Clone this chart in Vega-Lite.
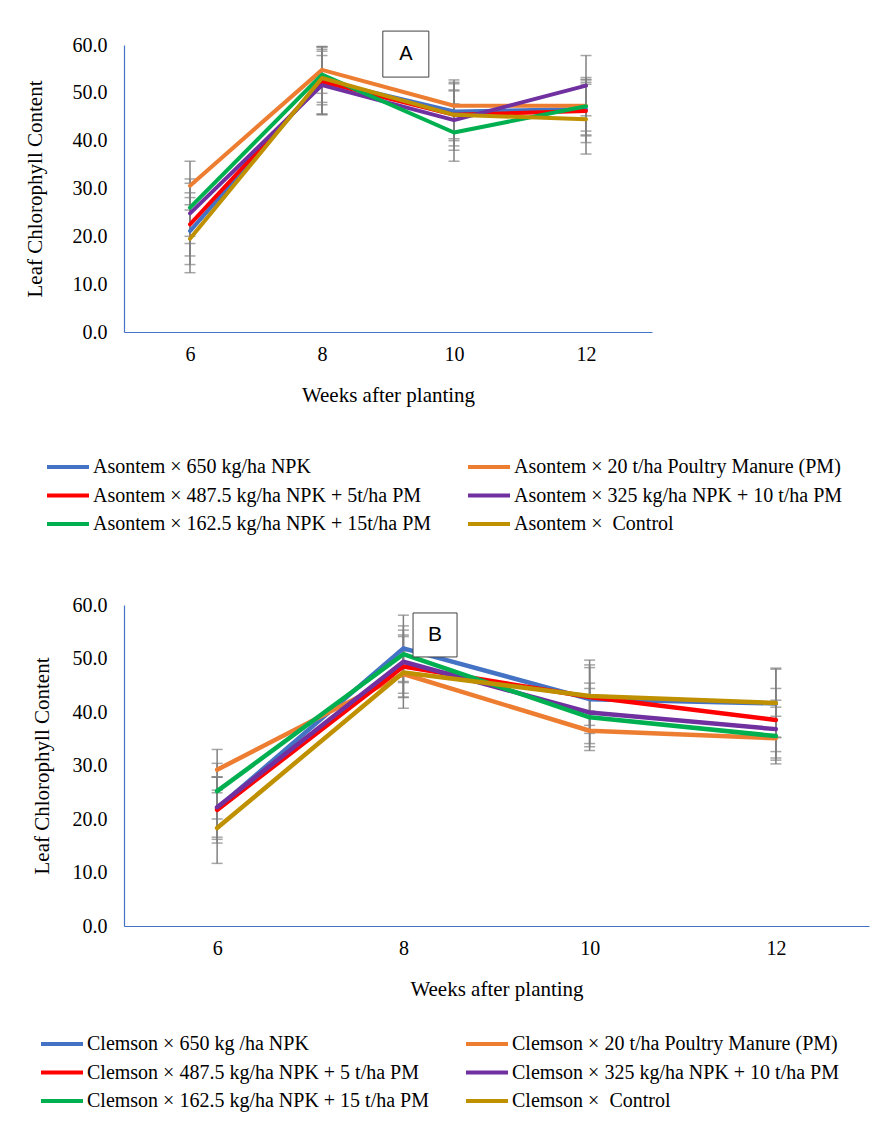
{
  "$schema": "https://vega.github.io/schema/vega-lite/v6.json",
  "background": "white",
  "padding": {"left": 24, "top": 29, "right": 5, "bottom": 5},
  "config": {
    "font": "Liberation Serif",
    "view": {"stroke": null},
    "axis": {
      "labelFont": "Liberation Serif", "labelFontSize": 20, "labelColor": "black",
      "titleFont": "Liberation Serif", "titleFontSize": 21, "titleFontWeight": "normal", "titleColor": "black",
      "ticks": false, "grid": false, "domainColor": "#4472C4", "domainWidth": 1.2
    },
    "legend": {"labelFont": "Liberation Serif"}
  },
  "datasets": {
    "A": [
      {"series": "Asontem × 650 kg/ha NPK", "week": 6, "value": 21.1, "lo": 14.1, "hi": 28.1},
      {"series": "Asontem × 650 kg/ha NPK", "week": 8, "value": 52.6, "lo": 45.6, "hi": 59.6},
      {"series": "Asontem × 650 kg/ha NPK", "week": 10, "value": 46.1, "lo": 40.0, "hi": 52.2},
      {"series": "Asontem × 650 kg/ha NPK", "week": 12, "value": 46.6, "lo": 41.0, "hi": 52.2},
      {"series": "Asontem × 20 t/ha Poultry Manure (PM)", "week": 6, "value": 30.6, "lo": 25.5, "hi": 35.7},
      {"series": "Asontem × 20 t/ha Poultry Manure (PM)", "week": 8, "value": 54.8, "lo": 49.9, "hi": 59.7},
      {"series": "Asontem × 20 t/ha Poultry Manure (PM)", "week": 10, "value": 47.3, "lo": 41.9, "hi": 52.7},
      {"series": "Asontem × 20 t/ha Poultry Manure (PM)", "week": 12, "value": 47.3, "lo": 42.0, "hi": 52.7},
      {"series": "Asontem × 487.5 kg/ha NPK + 5t/ha PM", "week": 6, "value": 22.5, "lo": 15.9, "hi": 29.1},
      {"series": "Asontem × 487.5 kg/ha NPK + 5t/ha PM", "week": 8, "value": 52.3, "lo": 45.5, "hi": 59.1},
      {"series": "Asontem × 487.5 kg/ha NPK + 5t/ha PM", "week": 10, "value": 45.4, "lo": 38.9, "hi": 51.9},
      {"series": "Asontem × 487.5 kg/ha NPK + 5t/ha PM", "week": 12, "value": 46.2, "lo": 39.6, "hi": 52.8},
      {"series": "Asontem × 325 kg/ha NPK + 10 t/ha PM", "week": 6, "value": 24.8, "lo": 18.5, "hi": 31.1},
      {"series": "Asontem × 325 kg/ha NPK + 10 t/ha PM", "week": 8, "value": 51.6, "lo": 45.4, "hi": 57.8},
      {"series": "Asontem × 325 kg/ha NPK + 10 t/ha PM", "week": 10, "value": 44.3, "lo": 38.0, "hi": 50.6},
      {"series": "Asontem × 325 kg/ha NPK + 10 t/ha PM", "week": 12, "value": 51.5, "lo": 45.2, "hi": 57.8},
      {"series": "Asontem × 162.5 kg/ha NPK + 15t/ha PM", "week": 6, "value": 26.0, "lo": 20.0, "hi": 32.0},
      {"series": "Asontem × 162.5 kg/ha NPK + 15t/ha PM", "week": 8, "value": 53.8, "lo": 48.0, "hi": 59.6},
      {"series": "Asontem × 162.5 kg/ha NPK + 15t/ha PM", "week": 10, "value": 41.7, "lo": 35.7, "hi": 47.7},
      {"series": "Asontem × 162.5 kg/ha NPK + 15t/ha PM", "week": 12, "value": 47.2, "lo": 41.2, "hi": 53.2},
      {"series": "Asontem ×\u00a0 Control", "week": 6, "value": 19.5, "lo": 12.4, "hi": 26.6},
      {"series": "Asontem ×\u00a0 Control", "week": 8, "value": 53.1, "lo": 47.5, "hi": 58.7},
      {"series": "Asontem ×\u00a0 Control", "week": 10, "value": 45.4, "lo": 40.4, "hi": 50.4},
      {"series": "Asontem ×\u00a0 Control", "week": 12, "value": 44.5, "lo": 37.2, "hi": 51.8}
    ],
    "B": [
      {"series": "Clemson × 650 kg /ha NPK", "week": 6, "value": 22.0, "lo": 16.2, "hi": 27.8},
      {"series": "Clemson × 650 kg /ha NPK", "week": 8, "value": 51.9, "lo": 45.7, "hi": 58.1},
      {"series": "Clemson × 650 kg /ha NPK", "week": 10, "value": 42.4, "lo": 36.5, "hi": 48.3},
      {"series": "Clemson × 650 kg /ha NPK", "week": 12, "value": 41.6, "lo": 35.2, "hi": 48.0},
      {"series": "Clemson × 20 t/ha Poultry Manure (PM)", "week": 6, "value": 29.2, "lo": 25.4, "hi": 33.0},
      {"series": "Clemson × 20 t/ha Poultry Manure (PM)", "week": 8, "value": 47.1, "lo": 42.8, "hi": 51.4},
      {"series": "Clemson × 20 t/ha Poultry Manure (PM)", "week": 10, "value": 36.5, "lo": 32.8, "hi": 40.2},
      {"series": "Clemson × 20 t/ha Poultry Manure (PM)", "week": 12, "value": 35.1, "lo": 31.0, "hi": 39.2},
      {"series": "Clemson × 487.5 kg/ha NPK + 5 t/ha PM", "week": 6, "value": 21.7, "lo": 15.5, "hi": 27.9},
      {"series": "Clemson × 487.5 kg/ha NPK + 5 t/ha PM", "week": 8, "value": 48.5, "lo": 42.7, "hi": 54.4},
      {"series": "Clemson × 487.5 kg/ha NPK + 5 t/ha PM", "week": 10, "value": 42.8, "lo": 36.0, "hi": 49.7},
      {"series": "Clemson × 487.5 kg/ha NPK + 5 t/ha PM", "week": 12, "value": 38.5, "lo": 32.6, "hi": 44.4},
      {"series": "Clemson × 325 kg/ha NPK + 10 t/ha PM", "week": 6, "value": 22.2, "lo": 16.6, "hi": 27.8},
      {"series": "Clemson × 325 kg/ha NPK + 10 t/ha PM", "week": 8, "value": 49.4, "lo": 43.5, "hi": 55.3},
      {"series": "Clemson × 325 kg/ha NPK + 10 t/ha PM", "week": 10, "value": 39.9, "lo": 34.1, "hi": 45.4},
      {"series": "Clemson × 325 kg/ha NPK + 10 t/ha PM", "week": 12, "value": 36.8, "lo": 31.4, "hi": 42.2},
      {"series": "Clemson × 162.5 kg/ha NPK + 15 t/ha PM", "week": 6, "value": 25.2, "lo": 20.0, "hi": 30.4},
      {"series": "Clemson × 162.5 kg/ha NPK + 15 t/ha PM", "week": 8, "value": 50.8, "lo": 45.5, "hi": 56.1},
      {"series": "Clemson × 162.5 kg/ha NPK + 15 t/ha PM", "week": 10, "value": 39.0, "lo": 33.5, "hi": 44.4},
      {"series": "Clemson × 162.5 kg/ha NPK + 15 t/ha PM", "week": 12, "value": 35.5, "lo": 30.3, "hi": 40.9},
      {"series": "Clemson ×\u00a0 Control", "week": 6, "value": 18.3, "lo": 11.7, "hi": 24.9},
      {"series": "Clemson ×\u00a0 Control", "week": 8, "value": 47.4, "lo": 40.7, "hi": 54.1},
      {"series": "Clemson ×\u00a0 Control", "week": 10, "value": 43.0, "lo": 37.5, "hi": 48.8},
      {"series": "Clemson ×\u00a0 Control", "week": 12, "value": 41.7, "lo": 35.3, "hi": 48.2}
    ]
  },
  "spacing": 61,
  "resolve": {"scale": {"color": "independent", "x": "independent", "y": "independent"}, "legend": {"color": "independent"}},
  "vconcat": [
    {
      "width": 528,
      "height": 287,
      "data": {"name": "A"},
      "encoding": {
        "x": {"field": "week", "type": "quantitative", "scale": {"domain": [5, 13], "nice": false},
              "axis": {"values": [6, 8, 10, 12], "format": "d", "title": "Weeks after planting", "labelPadding": 12, "titlePadding": 20, "labelFont": "Liberation Serif", "titleFont": "Liberation Serif"}}
      },
      "layer": [
        {
          "mark": {"type": "rule", "color": "#808080", "strokeWidth": 1.5},
          "encoding": {
            "y": {"field": "lo", "type": "quantitative", "scale": {"domain": [0, 60], "nice": false},
                  "axis": {"values": [0, 10, 20, 30, 40, 50, 60], "format": ".1f", "title": "Leaf Chlorophyll Content", "labelPadding": 17, "titlePadding": 27, "labelFont": "Liberation Serif", "titleFont": "Liberation Serif"}},
            "y2": {"field": "hi"}
          }
        },
        {
          "mark": {"type": "tick", "orient": "horizontal", "color": "#808080", "size": 11, "thickness": 1.5},
          "encoding": {"y": {"field": "lo", "type": "quantitative"}}
        },
        {
          "mark": {"type": "tick", "orient": "horizontal", "color": "#808080", "size": 11, "thickness": 1.5},
          "encoding": {"y": {"field": "hi", "type": "quantitative"}}
        },
        {
          "mark": {"type": "line", "strokeWidth": 4, "strokeCap": "round", "strokeJoin": "round"},
          "encoding": {
            "y": {"field": "value", "type": "quantitative"},
            "color": {
              "field": "series", "type": "nominal",
              "scale": {
                "domain": ["Asontem × 650 kg/ha NPK", "Asontem × 487.5 kg/ha NPK + 5t/ha PM", "Asontem × 162.5 kg/ha NPK + 15t/ha PM", "Asontem × 20 t/ha Poultry Manure (PM)", "Asontem × 325 kg/ha NPK + 10 t/ha PM", "Asontem ×\u00a0 Control"],
                "range": ["#4472C4", "#FF0000", "#00B050", "#ED7D31", "#7030A0", "#BF9000"]
              },
              "legend": {
                "orient": "none", "legendX": -72, "legendY": 406, "columns": 2, "columnPadding": 28, "rowPadding": 2.5,
                "symbolType": "M-1.5,0H1.5", "symbolSize": 784, "symbolStrokeWidth": 4,
                "labelFont": "Liberation Serif", "labelFontSize": 20, "labelColor": "black", "labelLimit": 600, "labelOffset": 9,
                "title": null, "padding": 0
              }
            }
          }
        },
        {
          "data": {"values": [{"label": "A", "week": 9.27, "value": 58.1}]},
          "mark": {"type": "point", "shape": "square", "size": 2116, "filled": true, "fill": "white", "stroke": "#404040", "strokeWidth": 1, "opacity": 1, "clip": false},
          "encoding": {"y": {"field": "value", "type": "quantitative"}}
        },
        {
          "data": {"values": [{"label": "A", "week": 9.27, "value": 58.1}]},
          "mark": {"type": "text", "font": "Liberation Sans", "fontSize": 20, "color": "black", "baseline": "middle", "align": "center"},
          "encoding": {"y": {"field": "value", "type": "quantitative"}, "text": {"field": "label"}}
        }
      ]
    },
    {
      "width": 745,
      "height": 321,
      "data": {"name": "B"},
      "encoding": {
        "x": {"field": "week", "type": "quantitative", "scale": {"domain": [5, 13], "nice": false},
              "axis": {"values": [6, 8, 10, 12], "format": "d", "title": "Weeks after planting", "labelPadding": 12, "titlePadding": 20, "labelFont": "Liberation Serif", "titleFont": "Liberation Serif"}}
      },
      "layer": [
        {
          "mark": {"type": "rule", "color": "#808080", "strokeWidth": 1.5},
          "encoding": {
            "y": {"field": "lo", "type": "quantitative", "scale": {"domain": [0, 60], "nice": false},
                  "axis": {"values": [0, 10, 20, 30, 40, 50, 60], "format": ".1f", "title": "Leaf Chlorophyll Content", "labelPadding": 17, "titlePadding": 20, "labelFont": "Liberation Serif", "titleFont": "Liberation Serif"}},
            "y2": {"field": "hi"}
          }
        },
        {
          "mark": {"type": "tick", "orient": "horizontal", "color": "#808080", "size": 11, "thickness": 1.5},
          "encoding": {"y": {"field": "lo", "type": "quantitative"}}
        },
        {
          "mark": {"type": "tick", "orient": "horizontal", "color": "#808080", "size": 11, "thickness": 1.5},
          "encoding": {"y": {"field": "hi", "type": "quantitative"}}
        },
        {
          "mark": {"type": "line", "strokeWidth": 4.5, "strokeCap": "round", "strokeJoin": "round"},
          "encoding": {
            "y": {"field": "value", "type": "quantitative"},
            "color": {
              "field": "series", "type": "nominal",
              "scale": {
                "domain": ["Clemson × 650 kg /ha NPK", "Clemson × 487.5 kg/ha NPK + 5 t/ha PM", "Clemson × 162.5 kg/ha NPK + 15 t/ha PM", "Clemson × 20 t/ha Poultry Manure (PM)", "Clemson × 325 kg/ha NPK + 10 t/ha PM", "Clemson ×\u00a0 Control"],
                "range": ["#4472C4", "#FF0000", "#00B050", "#ED7D31", "#7030A0", "#BF9000"]
              },
              "legend": {
                "orient": "none", "legendX": -78, "legendY": 423, "columns": 2, "columnPadding": 28, "rowPadding": 2.5,
                "symbolType": "M-1.5,0H1.5", "symbolSize": 784, "symbolStrokeWidth": 4,
                "labelFont": "Liberation Serif", "labelFontSize": 20, "labelColor": "black", "labelLimit": 600, "labelOffset": 9,
                "title": null, "padding": 0
              }
            }
          }
        },
        {
          "data": {"values": [{"label": "B", "week": 8.34, "value": 54.4}]},
          "mark": {"type": "point", "shape": "square", "size": 1936, "filled": true, "fill": "white", "stroke": "#404040", "strokeWidth": 1, "opacity": 1, "clip": false},
          "encoding": {"y": {"field": "value", "type": "quantitative"}}
        },
        {
          "data": {"values": [{"label": "B", "week": 8.34, "value": 54.4}]},
          "mark": {"type": "text", "font": "Liberation Sans", "fontSize": 21, "color": "black", "baseline": "middle", "align": "center"},
          "encoding": {"y": {"field": "value", "type": "quantitative"}, "text": {"field": "label"}}
        }
      ]
    }
  ]
}
